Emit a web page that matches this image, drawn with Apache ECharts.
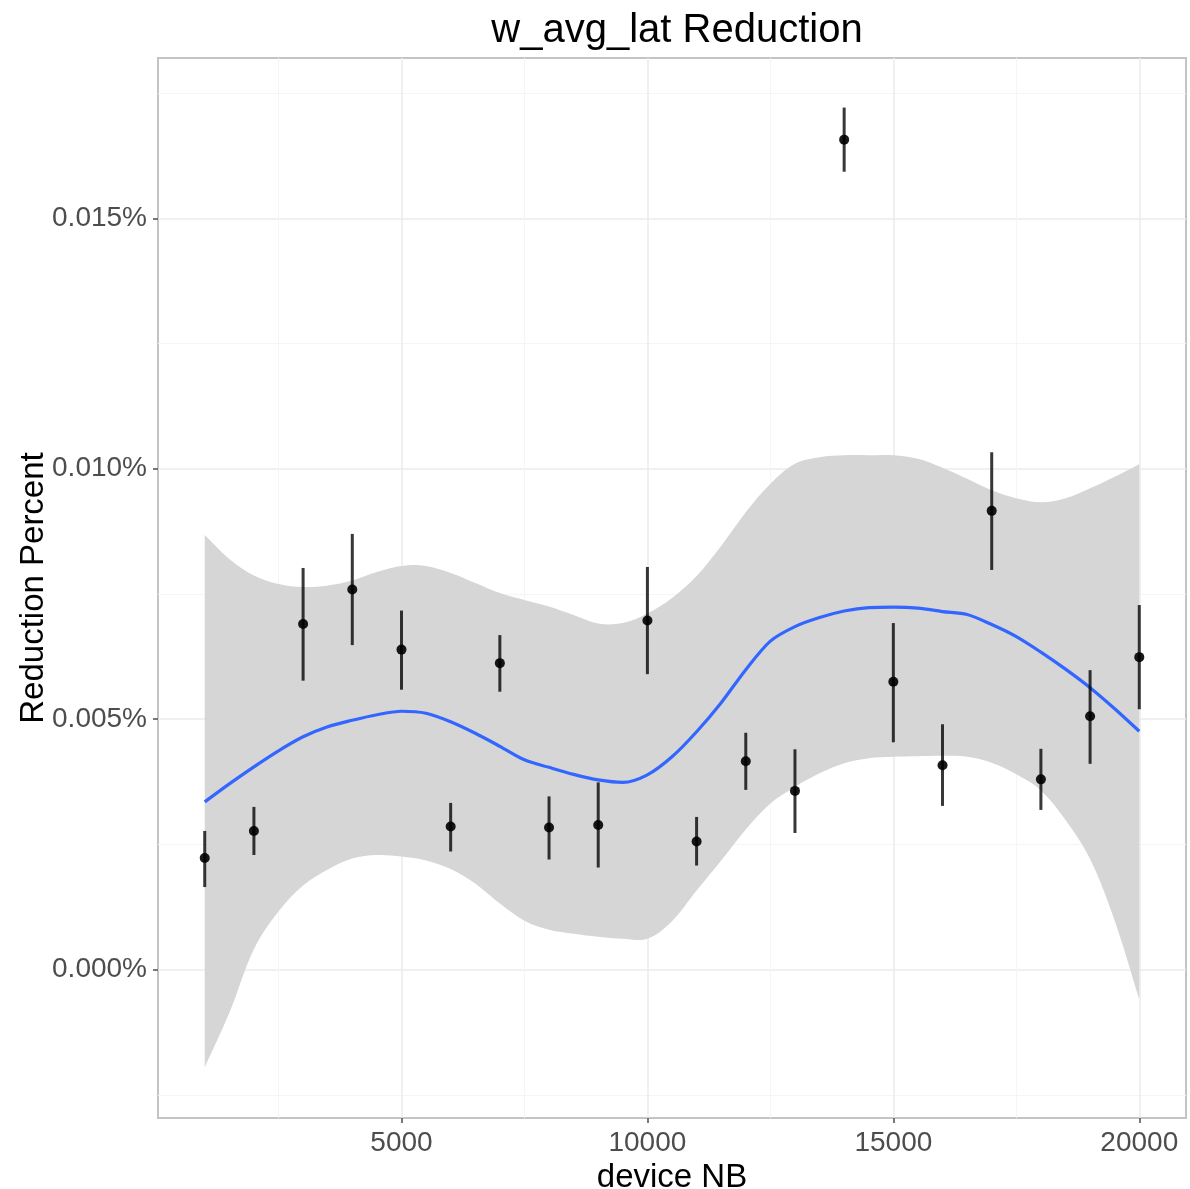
<!DOCTYPE html>
<html>
<head>
<meta charset="utf-8">
<title>w_avg_lat Reduction</title>
<script src="https://cdn.jsdelivr.net/npm/echarts@6/dist/echarts.min.js"></script>
<style>
  html, body { margin: 0; padding: 0; background: #fff; }
  #chart { width: 1190px; height: 1189px; }
</style>
</head>
<body>
<div id="chart"></div>
<script>
// measured points: device count vs latency reduction (in percent)
const deviceNB = [1000, 2000, 3000, 4000, 5000, 6000, 7000, 8000, 9000, 10000,
  11000, 12000, 13000, 14000, 15000, 16000, 17000, 18000, 19000, 20000];
const meanPct = [0.00223, 0.00277, 0.00690, 0.00759, 0.00639, 0.00286, 0.00612, 0.00284, 0.00289, 0.00697,
  0.00256, 0.00416, 0.00357, 0.01657, 0.00575, 0.00408, 0.00916, 0.00380, 0.00506, 0.00624];
const lowPct = [0.00165, 0.00229, 0.00577, 0.00648, 0.00559, 0.00236, 0.00555, 0.00220, 0.00204, 0.00590,
  0.00208, 0.00359, 0.00273, 0.01593, 0.00454, 0.00327, 0.00798, 0.00319, 0.00411, 0.00520];
const highPct = [0.00277, 0.00325, 0.00802, 0.00870, 0.00717, 0.00333, 0.00668, 0.00346, 0.00374, 0.00804,
  0.00305, 0.00473, 0.00440, 0.01721, 0.00692, 0.00490, 0.01033, 0.00441, 0.00598, 0.00728];

// loess fit and its confidence band
const fitX = [1000, 1500, 2000, 2500, 3000, 3500, 4000, 4500, 5000, 5500,
  6000, 6500, 7000, 7500, 8000, 8500, 9000, 9500, 10000, 10500,
  11000, 11500, 12000, 12500, 13000, 13500, 14000, 14500, 15000, 15500,
  16000, 16500, 17000, 17500, 18000, 18500, 19000, 19500, 20000];
const fitY = [0.00335, 0.00371, 0.00405, 0.00437, 0.00465, 0.00485, 0.00498, 0.00509, 0.00516, 0.00512,
  0.00495, 0.00472, 0.00446, 0.00419, 0.00404, 0.00390, 0.00379, 0.00374, 0.00389, 0.00425,
  0.00475, 0.00533, 0.00599, 0.00656, 0.00685, 0.00703, 0.00716, 0.00723, 0.00724, 0.00722,
  0.00715, 0.00709, 0.00689, 0.00665, 0.00634, 0.00600, 0.00563, 0.00521, 0.00476];
const bandLow = [-0.00195, -0.00086, 0.00041, 0.00116, 0.00168, 0.00200, 0.00222, 0.00229, 0.00226, 0.00218,
  0.00201, 0.00172, 0.00132, 0.00098, 0.00080, 0.00072, 0.00066, 0.00062, 0.00062, 0.00097,
  0.00158, 0.00218, 0.00280, 0.00332, 0.00365, 0.00392, 0.00412, 0.00422, 0.00425, 0.00426,
  0.00427, 0.00425, 0.00413, 0.00390, 0.00358, 0.00299, 0.00221, 0.00098, -0.00059];
const bandHigh = [0.00868, 0.00820, 0.00787, 0.00770, 0.00764, 0.00767, 0.00777, 0.00794, 0.00806, 0.00806,
  0.00792, 0.00772, 0.00752, 0.00738, 0.00725, 0.00708, 0.00691, 0.00692, 0.00711, 0.00742,
  0.00786, 0.00846, 0.00913, 0.00970, 0.01010, 0.01023, 0.01027, 0.01027, 0.01027, 0.01020,
  0.01002, 0.00980, 0.00957, 0.00941, 0.00933, 0.00941, 0.00961, 0.00984, 0.01009];

const xTicks = [5000, 10000, 15000, 20000];
const yTicks = [0, 0.005, 0.010, 0.015];

const font = 'Liberation Sans, Arial, Helvetica, sans-serif';
const chart = echarts.init(document.getElementById('chart'));

chart.setOption({
  animation: false,
  backgroundColor: '#fff',
  title: {
    text: 'w_avg_lat Reduction',
    left: 672,
    textAlign: 'center',
    top: 6,
    textStyle: { fontFamily: font, fontSize: 40, fontWeight: 'normal', color: '#000' }
  },
  grid: {
    left: 158, right: 4, top: 58, bottom: 71,
    outerBoundsMode: 'none',
    containLabel: false,
    show: true, borderColor: '#c4c4c4', borderWidth: 2, backgroundColor: 'transparent'
  },
  xAxis: {
    type: 'value',
    min: 50, max: 20950,
    minInterval: 5000, maxInterval: 5000,
    name: 'device NB',
    nameLocation: 'middle',
    nameGap: 30,
    nameTextStyle: { fontFamily: font, fontSize: 33, color: '#000' },
    axisLine: { show: false, onZero: false },
    axisTick: { show: true, length: 5, customValues: xTicks, lineStyle: { color: '#4d4d4d', width: 1.5 } },
    axisLabel: {
      customValues: xTicks, margin: 11,
      fontFamily: font, fontSize: 28, color: '#4d4d4d',
      formatter: v => String(v)
    },
    splitLine: { show: true, lineStyle: { color: '#ebebeb', width: 1.5 } },
    minorTick: { show: false, splitNumber: 2 },
    minorSplitLine: { show: true, lineStyle: { color: '#f5f5f5', width: 1 } }
  },
  yAxis: {
    type: 'value',
    min: -0.00296, max: 0.0182,
    minInterval: 0.005, maxInterval: 0.005,
    name: 'Reduction Percent',
    nameLocation: 'middle',
    nameGap: 108,
    nameMoveOverlap: false,
    nameTextStyle: { fontFamily: font, fontSize: 33, color: '#000' },
    axisLine: { show: false, onZero: false },
    axisTick: { show: true, length: 5, customValues: yTicks, lineStyle: { color: '#4d4d4d', width: 1.5 } },
    axisLabel: {
      customValues: yTicks, margin: 11,
      fontFamily: font, fontSize: 28, color: '#4d4d4d',
      formatter: v => v.toFixed(3) + '%'
    },
    splitLine: { show: true, lineStyle: { color: '#ebebeb', width: 1.5 } },
    minorTick: { show: false, splitNumber: 2 },
    minorSplitLine: { show: true, lineStyle: { color: '#f5f5f5', width: 1 } }
  },
  series: [
    {
      // confidence band: one smoothed polygon, corners doubled so the ends stay vertical
      name: 'band',
      type: 'custom',
      data: [[fitX[0], bandLow[0]]],
      encode: { x: 0, y: 1 },
      silent: true,
      renderItem: (params, api) => {
        const upper = fitX.map((x, i) => api.coord([x, bandHigh[i]]));
        const lower = fitX.map((x, i) => api.coord([x, bandLow[i]])).reverse();
        const pts = [upper[0]].concat(upper, [upper[upper.length - 1]], [lower[0]], lower, [lower[lower.length - 1]]);
        return {
          type: 'polygon',
          shape: { points: pts, smooth: 0.35 },
          style: { fill: '#d6d6d6' }
        };
      },
      z: 1
    },
    {
      name: 'fit',
      type: 'line',
      data: fitX.map((x, i) => [x, fitY[i]]),
      symbol: 'none',
      smooth: 0.3,
      lineStyle: { color: '#3366ff', width: 3.2 },
      z: 2
    },
    {
      name: 'range',
      type: 'custom',
      data: deviceNB.map((x, i) => [x, lowPct[i], highPct[i]]),
      encode: { x: 0, y: [1, 2] },
      renderItem: (params, api) => {
        const a = api.coord([api.value(0), api.value(1)]);
        const b = api.coord([api.value(0), api.value(2)]);
        return {
          type: 'line',
          shape: { x1: a[0], y1: a[1], x2: b[0], y2: b[1] },
          style: { stroke: 'rgba(0,0,0,0.78)', lineWidth: 3 }
        };
      },
      z: 3
    },
    {
      name: 'points',
      type: 'scatter',
      data: deviceNB.map((x, i) => [x, meanPct[i]]),
      symbolSize: 10,
      itemStyle: { color: '#000', opacity: 0.9 },
      z: 4
    }
  ]
});
</script>
</body>
</html>
